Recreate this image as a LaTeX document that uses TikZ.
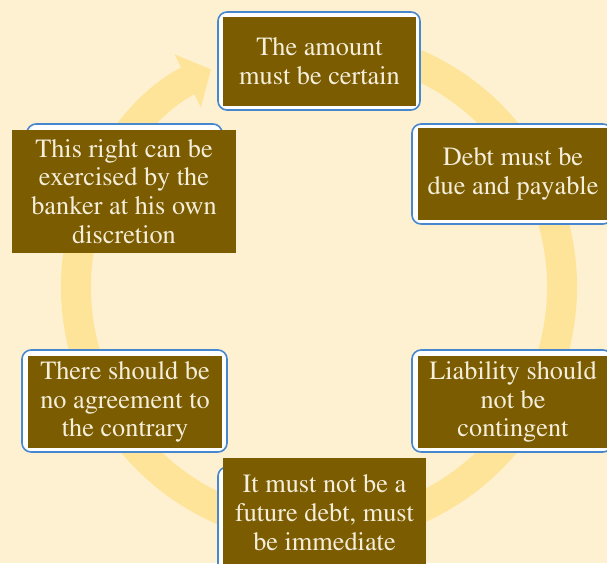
\documentclass[tikz,border=0pt]{standalone}
\usepackage[T1]{fontenc}
\usepackage{times}
\usetikzlibrary{arrows.meta}
\definecolor{paper}{RGB}{254,241,210}
\definecolor{ringcol}{RGB}{254,228,152}
\definecolor{mud}{RGB}{123,92,0}
\definecolor{edge}{RGB}{70,135,205}
\definecolor{ink}{RGB}{244,238,218}
\tikzset{
  frame/.style={draw=edge,line width=1.6pt,fill=white,rounded corners=9pt,inner sep=0pt},
  card/.style={fill=mud,text=ink,inner sep=0pt,align=center,
    font=\rmfamily\fontsize{26.3}{28.8}\selectfont},
}
\begin{document}
\begin{tikzpicture}[x=1pt,y=-1pt]
  \useasboundingbox (0,0) rectangle (607,563);
  \clip (0,0) rectangle (607,563);
  \fill[paper] (0,0) rectangle (607,563);
  % ring
  \coordinate(hub)at(319,287);
  \draw[ringcol,line width=30pt,-{Triangle[width=58pt,length=26pt]}]
    (hub) ++(-80:243) arc[start angle=-80,end angle=243.6,radius=243];
  % top
  \node[frame,minimum width=202pt,minimum height=98pt](f1)at(319,61){};
  \node[card,minimum width=193pt,minimum height=89pt](c1)at(319.5,61.5){The amount\\must be certain};
  % right upper
  \node[frame,minimum width=200pt,minimum height=100pt](f2)at(512,174){};
  \node[card,minimum width=191pt,minimum height=92pt](c2)at(513,174){Debt must be\\due and payable};
  % right lower
  \node[frame,minimum width=200pt,minimum height=102pt](f3)at(512,401){};
  \node[card,minimum width=191pt,minimum height=92pt](c3)at(513,402){Liability should\\not be\\contingent};
  % bottom
  \node[frame,minimum width=202pt,minimum height=108pt](f4)at(319,521){};
  \node[card,minimum width=203pt,minimum height=110pt](c4)at(324.5,513){It must not be a\\future debt, must\\be immediate};
  % left lower
  \node[frame,minimum width=205pt,minimum height=102pt](f5)at(124.5,401){};
  \node[card,minimum width=194pt,minimum height=92pt](c5)at(125,402){There should be\\no agreement to\\the contrary};
  % left upper
  \node[frame,minimum width=195pt,minimum height=98pt](f6)at(124.5,173){};
  \node[card,minimum width=224pt,minimum height=123pt](c6)at(124,191.5){This right can be\\exercised by the\\banker at his own\\discretion};
\end{tikzpicture}
\end{document}
